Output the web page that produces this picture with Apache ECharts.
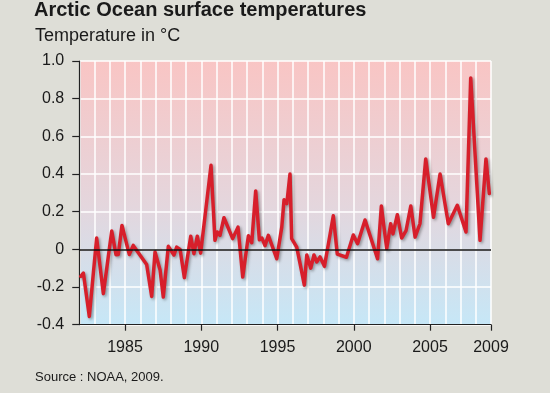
<!DOCTYPE html>
<html><head><meta charset="utf-8">
<script src="https://cdn.jsdelivr.net/npm/echarts@6/dist/echarts.min.js"></script>
<style>html,body{margin:0;padding:0;background:#deded7;}#c{width:550px;height:393px;}</style>
</head><body><div id="c"></div>
<script>
const years = [1982.10,1982.27,1982.66,1983.14,1983.58,1984.13,1984.41,1984.56,1984.80,1985.28,1985.54,1985.85,1986.42,1986.75,1986.97,1987.30,1987.51,1987.84,1988.21,1988.39,1988.61,1988.89,1989.31,1989.52,1989.74,1989.96,1990.64,1990.90,1991.05,1991.23,1991.49,1992.06,1992.41,1992.72,1993.09,1993.31,1993.57,1993.81,1993.98,1994.18,1994.40,1994.95,1995.28,1995.43,1995.61,1995.82,1995.93,1996.26,1996.48,1996.76,1996.92,1997.18,1997.39,1997.57,1997.79,1998.08,1998.66,1998.92,1999.52,1999.97,2000.25,2000.74,2001.56,2001.81,2002.16,2002.42,2002.57,2002.86,2003.14,2003.43,2003.74,2004.02,2004.34,2004.72,2005.23,2005.66,2006.20,2006.79,2007.36,2007.67,2008.28,2008.67,2008.89];
const temps = [-0.143,-0.126,-0.356,0.06,-0.235,0.097,-0.028,-0.027,0.127,-0.027,0.021,-0.015,-0.08,-0.25,-0.014,-0.11,-0.253,0.016,-0.03,0.012,0.0,-0.15,0.07,-0.023,0.07,-0.02,0.446,0.048,0.092,0.074,0.168,0.057,0.118,-0.147,0.072,0.035,0.31,0.051,0.06,0.02,0.074,-0.05,0.118,0.264,0.243,0.40,0.057,0.012,-0.076,-0.19,-0.03,-0.10,-0.03,-0.067,-0.04,-0.09,0.178,-0.025,-0.042,0.076,0.03,0.156,-0.05,0.23,0.004,0.136,0.082,0.184,0.06,0.1,0.23,0.065,0.136,0.48,0.17,0.40,0.136,0.234,0.092,0.91,0.048,0.48,0.296];
const xLabelYears = [1985,1990,1995,2000,2005,2009];
const titleText = 'Arctic Ocean surface temperatures';
const subtitleText = 'Temperature in °C';
const sourceText = 'Source : NOAA, 2009.';

const FONT = "'Liberation Sans', Arial, Helvetica, sans-serif";
const chart = echarts.init(document.getElementById('c'), null, {renderer:'canvas'});
const data = years.map((y,i)=>[y,temps[i]]);
chart.setOption({
  backgroundColor:'#deded7',
  animation:false,
  title:[
    {text:titleText,left:34,top:0,padding:0,textStyle:{fontFamily:FONT,fontSize:20,fontWeight:'bold',color:'#1a1a1a'}},
    {text:subtitleText,left:35,top:27,padding:0,textStyle:{fontFamily:FONT,fontSize:18,fontWeight:'normal',color:'#1a1a1a'}},
    {text:sourceText,left:35,top:371,padding:0,textStyle:{fontFamily:FONT,fontSize:13,fontWeight:'normal',color:'#1a1a1a'}}
  ],
  grid:{left:79.25,right:59,top:61,bottom:68.3,show:true,borderWidth:0,
    backgroundColor:new echarts.graphic.LinearGradient(0,0,0,1,[{offset:0,color:'#f9c5c4'},{offset:0.55,color:'#e4d6dd'},{offset:1,color:'#c6e7f7'}])},
  xAxis:[
    {type:'value',min:1982,max:2009,interval:1,position:'bottom',
     axisLine:{show:false},axisTick:{show:false},axisLabel:{show:false},
     splitLine:{show:true,lineStyle:{color:'#ffffff',width:1.5}}},
    {type:'value',min:1982,max:2009,position:'bottom',offset:0,
     axisLine:{show:true,lineStyle:{color:'#222',width:1.2}},
     axisTick:{show:true,customValues:xLabelYears,length:6,lineStyle:{color:'#222',width:1.2}},
     axisLabel:{show:true,customValues:xLabelYears,margin:15,fontFamily:FONT,fontSize:16,color:'#1a1a1a',
       formatter:v=>String(Math.round(v))},
     splitLine:{show:false}}
  ],
  yAxis:{type:'value',min:-0.4,max:1.0,interval:0.2,
    axisLine:{show:true,lineStyle:{color:'#222',width:1.2}},
    axisTick:{show:true,length:7,lineStyle:{color:'#222',width:1.2}},
    axisLabel:{margin:15,fontFamily:FONT,fontSize:16,color:'#1a1a1a',
      formatter:v=>Math.abs(v)<1e-9?'0':v.toFixed(1)},
    splitLine:{show:true,lineStyle:{color:'#ffffff',width:1.5}}},
  series:[{type:'line',xAxisIndex:1,data:data,symbol:'none',
    lineStyle:{color:'#d71f2b',width:3.5,join:'round',cap:'round',shadowColor:'rgba(0,0,0,0.35)',shadowBlur:3,shadowOffsetX:1.5,shadowOffsetY:1.5},
    markLine:{silent:true,symbol:'none',label:{show:false},lineStyle:{color:'#111',width:1.5,type:'solid'},data:[{yAxis:0}]},
    z:3}]
});
</script></body></html>
